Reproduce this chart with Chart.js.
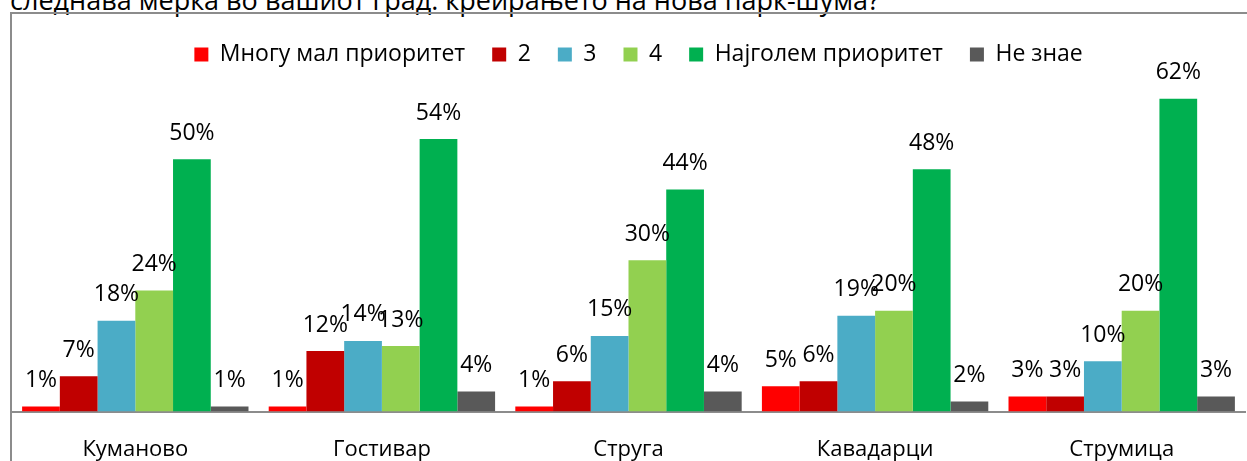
<!DOCTYPE html>
<html>
<head>
<meta charset="utf-8">
<script src="https://cdn.jsdelivr.net/npm/chart.js@4"></script>
<style>
    html, body { margin: 0; padding: 0; background: #fff; overflow: hidden; }
    body { width: 1247px; height: 461px; position: relative; }
    #title {
        position: absolute; left: 10px; top: -19px;
        font: 27px "Open Sans", sans-serif; color: #000; white-space: nowrap;
    }
    #frame {
        position: absolute; left: 10px; top: 12px; width: 1300px; height: 500px;
        border-left: 2px solid #8c8c8c; border-top: 2px solid #8c8c8c;
    }
    #chart { position: absolute; left: 0; top: 0; }
</style>
</head>
<body>
<div id="title">следнава мерка во вашиот град: креирањето на нова парк-шума?</div>
<div id="frame"></div>
<canvas id="chart" width="1247" height="488"></canvas>
<script>
    const cities = ["Куманово", "Гостивар", "Струга", "Кавадарци", "Струмица"];
    const seriesNames = ["Многу мал приоритет", "2", "3", "4", "Најголем приоритет", "Не знае"];
    const seriesColors = ["#ff0000", "#c00000", "#4bacc6", "#92d050", "#00b050", "#595959"];

    // percentages per city, one array per answer
    const lowest = [1, 1, 1, 5, 3];
    const two = [7, 12, 6, 6, 3];
    const three = [18, 14, 15, 19, 10];
    const four = [24, 13, 30, 20, 20];
    const highest = [50, 54, 44, 48, 62];
    const dontKnow = [1, 4, 4, 2, 3];

    const values = [lowest, two, three, four, highest, dontKnow];
    const family = "'Open Sans', sans-serif";

    // percent label above each bar
    const valueLabels = {
        id: "valueLabels",
        afterDatasetsDraw(chart) {
            const ctx = chart.ctx;
            ctx.save();
            ctx.font = `23px ${family}`;
            ctx.fillStyle = "#000";
            ctx.textAlign = "center";
            ctx.textBaseline = "middle";
            chart.data.datasets.forEach((ds, i) => {
                chart.getDatasetMeta(i).data.forEach((bar, j) => {
                    ctx.fillText(ds.data[j] + "%", bar.x, bar.y - 26);
                });
            });
            ctx.restore();
        },
    };

    // nudge the legend a little right of center
    const legendShift = {
        id: "legendShift",
        afterLayout(chart) {
            chart.legend.left += 10;
            chart.legend.right += 10;
        },
    };

    new Chart(document.getElementById("chart").getContext("2d"), {
        type: "bar",
        data: {
            labels: cities,
            datasets: seriesNames.map((name, i) => ({
                label: name,
                data: values[i],
                backgroundColor: seriesColors[i],
                borderWidth: 0,
                barPercentage: 1,
                categoryPercentage: 0.918,
            })),
        },
        options: {
            responsive: false,
            devicePixelRatio: 1,
            animation: false,
            layout: { padding: { left: 12, right: 2, top: 16, bottom: 0 } },
            scales: {
                x: {
                    grid: { display: false, drawTicks: false },
                    border: { display: true, color: "#8c8c8c", width: 2 },
                    ticks: { color: "#000", font: { family, size: 22 }, padding: 25 },
                },
                y: { display: false, min: 0, max: 66.5 },
            },
            plugins: {
                legend: {
                    position: "top",
                    align: "center",
                    labels: {
                        color: "#000",
                        font: { family, size: 23 },
                        boxWidth: 14,
                        boxHeight: 14,
                        padding: 27,
                    },
                },
                tooltip: { enabled: false },
            },
        },
        plugins: [valueLabels, legendShift],
    });
</script>
</body>
</html>
